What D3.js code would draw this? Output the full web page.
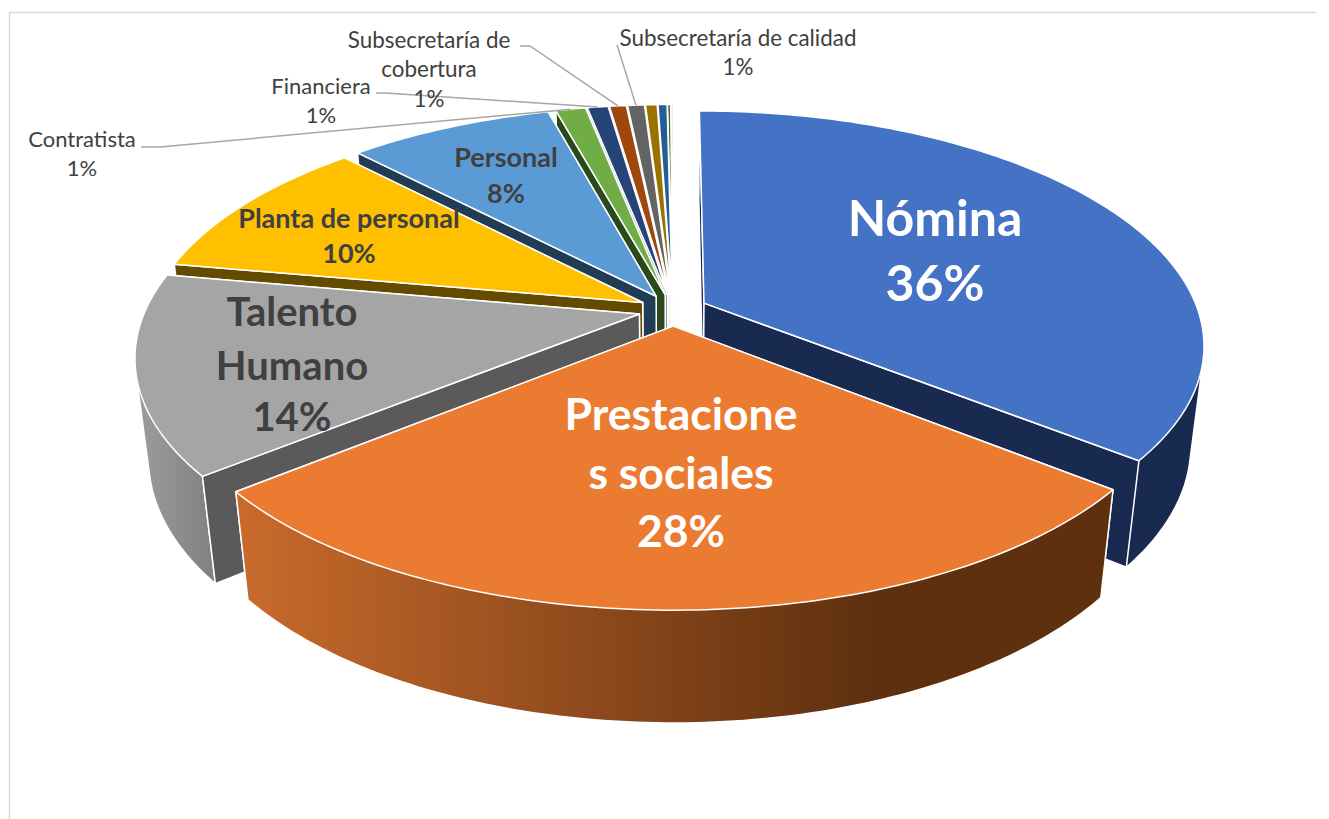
<!DOCTYPE html>
<html>
<head>
<meta charset="utf-8">
<script src="https://cdn.jsdelivr.net/npm/d3@7"></script>
<style>
  html, body { margin: 0; padding: 0; background: #fff; }
  svg { display: block; }
  text { font-family: Lato, "Open Sans", sans-serif; }
</style>
</head>
<body>
<div id="chart"></div>
<script>
const categories = ["Nómina", "Prestaciones sociales", "Talento Humano", "Planta de personal", "Personal",
  "Contratista", "Financiera", "Subsecretaría de cobertura", "Subsecretaría de calidad", "Otros 1", "Otros 2", "Otros 3", "Otros 4"];
const values = [35.7, 28.46, 13.64, 10.05, 7.9, 1.15, 0.8, 0.65, 0.65, 0.45, 0.35, 0.12, 0.08];
const topColors = ["#4472C4", "#EB7B30", "#A5A5A5", "#FFC000", "#5B9BD5", "#70AD47", "#264478", "#9E480E", "#636363", "#997300", "#255E91", "#43682B", "#698ED0"];
const wallColors = ["#182A4F", "#5E300F", "#5A5A5A", "#634B00", "#213C55", "#2B4A1B", "#1A2E50", "#6A3009", "#424242", "#665000", "#193F61", "#2D461D", "#46608C"];

const width = 1329, height = 819;
const cx = 673, cy = 310;
const Rx = 494, Ry = 228, persp = 0.175;  // ground plane perspective
const wall = 102, sink = 0.025, explode = 0.07;

const svg = d3.select("#chart").append("svg")
  .attr("width", width)
  .attr("height", height);

// frame of the chart area
svg.append("path")
  .attr("d", d3.line()([[9.5, height], [9.5, 12.5], [1316, 12.5]]))
  .attr("fill", "none")
  .attr("stroke", "#d9d9d9")
  .attr("stroke-width", 1.5);

const defs = svg.append("defs");
const orangeGrad = defs.append("linearGradient")
  .attr("id", "rim1").attr("gradientUnits", "userSpaceOnUse")
  .attr("x1", 245).attr("x2", 870).attr("y1", 0).attr("y2", 0);
orangeGrad.append("stop").attr("offset", 0).attr("stop-color", "#C86A2C");
orangeGrad.append("stop").attr("offset", 1).attr("stop-color", "#5E300F");
const grayGrad = defs.append("linearGradient")
  .attr("id", "rim2").attr("gradientUnits", "userSpaceOnUse")
  .attr("x1", 140).attr("x2", 220).attr("y1", 0).attr("y2", 0);
grayGrad.append("stop").attr("offset", 0).attr("stop-color", "#9C9C9C");
grayGrad.append("stop").attr("offset", 1).attr("stop-color", "#7E7E7E");

const arcs = d3.pie().sort(null).value(d => d)(values);

// disc coordinates (radius 1) to screen; z = 1 is the lower face
function project(u, v, z) {
  const w = 1 - persp * v + sink * z;
  return [cx + Rx * u / w, cy + (Ry * v + wall * z) / w];
}

function slicePaths(a) {
  const mid = (a.startAngle + a.endAngle) / 2;
  const ou = explode * Math.sin(mid), ov = -explode * Math.cos(mid);
  const rim = (t, z) => project(ou + Math.sin(t), ov - Math.cos(t), z);
  const apex = z => project(ou, ov, z);
  const ts = d3.range(0, 1.0001, 1 / Math.max(2, Math.ceil((a.endAngle - a.startAngle) * 60)))
    .map(f => a.startAngle + f * (a.endAngle - a.startAngle));
  const line = d3.line();
  const startPts = [apex(0), rim(a.startAngle, 0), rim(a.startAngle, 1), apex(1)];
  const endPts = [apex(0), rim(a.endAngle, 0), rim(a.endAngle, 1), apex(1)];
  // hull, so the silhouette between upper and lower arc is filled too
  const rimHull = d3.polygonHull([...ts.map(t => rim(t, 0)), ...ts.map(t => rim(t, 1))]);
  return {
    top: line([apex(0), ...ts.map(t => rim(t, 0))]) + "Z",
    rim: line(rimHull) + "Z",
    start: line(startPts) + "Z",
    end: line(endPts) + "Z",
    startFront: d3.polygonArea(startPts) > 0,
    endFront: d3.polygonArea(endPts) < 0,
    tip: rim(mid, 0)
  };
}

// back slices first, the big front ones last
const order = [12, 11, 10, 9, 8, 7, 6, 5, 4, 3, 2, 0, 1];
const slices = svg.append("g")
  .selectAll("g")
  .data(order)
  .join("g");

slices.each(function(i) {
  const g = d3.select(this);
  const p = slicePaths(arcs[i]);
  const wallC = wallColors[i];
  const rimFill = i === 1 ? "url(#rim1)" : i === 2 ? "url(#rim2)" : wallC;
  // hidden faces, then rim, then faces turned to the viewer, then the top
  const layers = [];
  if (!p.startFront) layers.push([p.start, wallC]);
  if (!p.endFront) layers.push([p.end, wallC]);
  layers.push([p.rim, rimFill]);
  if (p.startFront) layers.push([p.start, wallC]);
  if (p.endFront) layers.push([p.end, wallC]);
  layers.push([p.top, topColors[i]]);
  layers.forEach(([d, fill]) => {
    g.append("path")
      .attr("d", d)
      .attr("fill", fill)
      .attr("stroke", "#fff")
      .attr("stroke-width", 1.5)
      .attr("stroke-linejoin", "round");
  });
});

// leader lines: [slice index, label end points]
const leaders = [
  [5, [[141, 147], [160, 147]]],
  [6, [[376, 93], [385, 93]]],
  [7, [[520, 46], [530, 46]]],
  [8, [[617, 45]]]
];
svg.append("g")
  .selectAll("path")
  .data(leaders)
  .join("path")
  .attr("d", d => d3.line()([...d[1], slicePaths(arcs[d[0]]).tip]))
  .attr("fill", "none")
  .attr("stroke", "#a6a6a6")
  .attr("stroke-width", 1.5);

const pct = i => Math.round(values[i]) + "%";

const labels = [
  {x: 935, lines: ["Nómina", pct(0)], y: [236, 301], size: 50, bold: true, fill: "#fff"},
  {x: 681, lines: ["Prestacione", "s sociales", pct(1)], y: [430, 489, 547], size: 44.5, bold: true, fill: "#fff"},
  {x: 292, lines: ["Talento", "Humano", pct(2)], y: [326, 380, 431], size: 40, bold: true, fill: "#404040"},
  {x: 349, lines: ["Planta de personal", pct(3)], y: [228, 263], size: 27, bold: true, fill: "#404040"},
  {x: 506, lines: ["Personal", pct(4)], y: [167, 203], size: 27, bold: true, fill: "#404040"},
  {x: 82, lines: ["Contratista", pct(5)], y: [147, 176], size: 22, fill: "#404040"},
  {x: 321, lines: ["Financiera", pct(6)], y: [94, 123], size: 22, fill: "#404040"},
  {x: 429, lines: ["Subsecretaría de", "cobertura", pct(7)], y: [48, 77, 107], size: 22.4, fill: "#404040"},
  {x: 738, lines: ["Subsecretaría de calidad", pct(8)], y: [46, 75], size: 22.4, fill: "#404040"}
];

labels.forEach(l => {
  l.lines.forEach((txt, i) => {
    svg.append("text")
      .attr("x", l.x)
      .attr("y", l.y[i])
      .attr("text-anchor", "middle")
      .attr("font-size", l.size)
      .attr("font-weight", l.bold ? 700 : 400)
      .attr("fill", l.fill)
      .text(txt);
  });
});
</script>
</body>
</html>
